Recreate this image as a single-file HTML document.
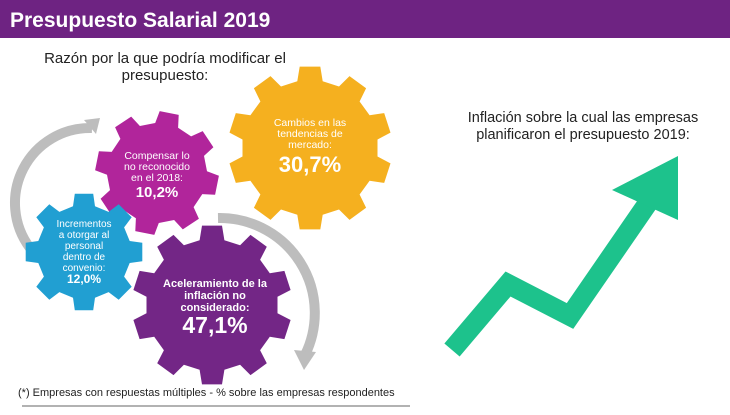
<!DOCTYPE html>
<html><head><meta charset="utf-8"><style>
body{margin:0;width:730px;height:410px;overflow:hidden;background:#fff;font-family:"Liberation Sans",sans-serif}
</style></head><body>
<svg id="s" width="730" height="410" xmlns="http://www.w3.org/2000/svg" font-family="Liberation Sans, sans-serif">
<rect x="0" y="0" width="730" height="38" fill="#6e2382"/>
<text x="10" y="27" fill="#fff" font-size="21" font-weight="bold">Presupuesto Salarial 2019</text>
<text x="165" y="63" text-anchor="middle" font-size="15" fill="#222">Razón por la que podría modificar el</text>
<text x="165" y="80" text-anchor="middle" font-size="15" fill="#222">presupuesto:</text>
<text x="583" y="122" text-anchor="middle" font-size="14.5" fill="#222">Inflación sobre la cual las empresas</text>
<text x="583" y="139" text-anchor="middle" font-size="14.5" fill="#222">planificaron el presupuesto 2019:</text>
<path d="M30 248 A75 75 0 0 1 92 128" fill="none" stroke="#bdbdbd" stroke-width="10"/>
<polygon points="84,120 100,118 96,134" fill="#bdbdbd"/>
<path d="M218 218 A95 95 0 0 1 305 355" fill="none" stroke="#bdbdbd" stroke-width="10"/>
<polygon points="294,350 316,352 304,370" fill="#bdbdbd"/>
<g id="gears"></g>
<g fill="#fff" text-anchor="middle" font-family="Liberation Sans, sans-serif">
<text x="310" y="126" font-size="10.5">Cambios en las</text>
<text x="310" y="137" font-size="10.5">tendencias de</text>
<text x="310" y="148" font-size="10.5">mercado:</text>
<text x="310" y="172" font-size="22" font-weight="bold">30,7%</text>
<text x="157" y="159" font-size="10.5">Compensar lo</text>
<text x="157" y="170" font-size="10.5">no reconocido</text>
<text x="157" y="181" font-size="10.5">en el 2018:</text>
<text x="157" y="197" font-size="15" font-weight="bold">10,2%</text>
<text x="84" y="227" font-size="10">Incrementos</text>
<text x="84" y="238" font-size="10">a otorgar al</text>
<text x="84" y="249" font-size="10">personal</text>
<text x="84" y="260" font-size="10">dentro de</text>
<text x="84" y="271" font-size="10">convenio:</text>
<text x="84" y="283" font-size="12" font-weight="bold">12,0%</text>
<text x="215" y="287" font-size="11" font-weight="bold">Aceleramiento de la</text>
<text x="215" y="299" font-size="11" font-weight="bold">inflación no</text>
<text x="215" y="311" font-size="11" font-weight="bold">considerado:</text>
<text x="215" y="333" font-size="23" font-weight="bold">47,1%</text>
</g>
<polyline points="452,350 508,284 570,316 650,200" fill="none" stroke="#1dc28c" stroke-width="20" stroke-linejoin="miter"/>
<polygon points="612,190 678,156 678,220" fill="#1dc28c"/>
<text x="18" y="396" font-size="11" fill="#222">(*) Empresas con respuestas múltiples - % sobre las empresas respondentes</text>
<line x1="22" y1="406" x2="410" y2="406" stroke="#999" stroke-width="1.5"/>
</svg>
<script>
function gear(cx,cy,ro,ri,n,rot,col){
 var p=[],step=2*Math.PI/n;
 for(var i=0;i<n;i++){
  var a=rot+i*step;
  var pts=[[ri,a-step*0.3],[ro,a-step*0.2],[ro,a+step*0.2],[ri,a+step*0.3]];
  pts.forEach(function(q){p.push((cx+q[0]*Math.cos(q[1])).toFixed(1)+","+(cy+q[0]*Math.sin(q[1])).toFixed(1));});
 }
 return '<polygon points="'+p.join(" ")+'" fill="'+col+'"/>';
}
document.getElementById("gears").innerHTML=
 gear(310,148,82,68,10,-Math.PI/2,"#f5b01f")+
 gear(157,173,62,50,8,-Math.PI/2+0.2,"#b1259b")+
 gear(84,252,59,47,8,-Math.PI/2,"#219fd2")+
 gear(212,305,80,66,10,-Math.PI/2,"#732686");
</script>
</body></html>
